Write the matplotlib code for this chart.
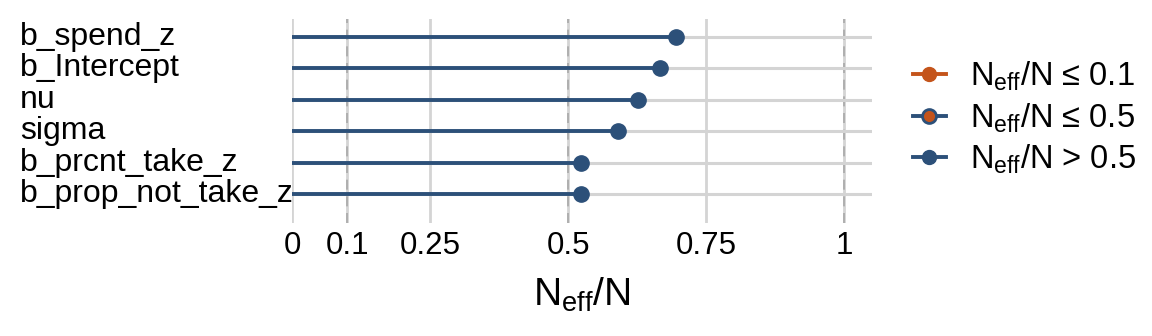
import matplotlib.pyplot as plt
import matplotlib.transforms as mtransforms
from matplotlib.lines import Line2D

plt.rcParams['font.family'] = ['Liberation Sans', 'DejaVu Sans']
plt.rcParams['mathtext.fontset'] = 'custom'
plt.rcParams['mathtext.rm'] = 'Liberation Sans'
plt.rcParams['mathtext.it'] = 'Liberation Sans'

params = ['b_spend_z', 'b_Intercept', 'nu', 'sigma', 'b_prcnt_take_z', 'b_prop_not_take_z']
ratios = [0.696, 0.667, 0.627, 0.591, 0.524, 0.524]
xticks = [0, 0.1, 0.25, 0.5, 0.75, 1]
xtick_labels = ['0', '0.1', '0.25', '0.5', '0.75', '1']
ref_lines = [0.1, 0.5, 1]

blue = '#2c5079'
orange = '#c4541b'
grid = '#d4d4d4'

fig = plt.figure(figsize=(11.52, 3.36), dpi=100)
ax = fig.add_axes([292 / 1152, 1 - 223 / 336, 580 / 1152, 204 / 336])

n = len(params)
ypos = [n - i for i in range(n)]

for xt in xticks:
    ax.axvline(xt, color=grid, lw=2, zorder=0)
for xr in ref_lines:
    ax.axvline(xr, color='#a8a8a8', lw=1.2, ls=(0, (6, 4)), zorder=1)
for y in ypos:
    ax.axhline(y, color=grid, lw=2.2, zorder=1)

for y, r in zip(ypos, ratios):
    ax.plot([0, r], [y, y], color=blue, lw=2.8, zorder=2, solid_capstyle='butt')
    ax.plot(r, y, 'o', color=blue, ms=11, zorder=3)

ax.set_xlim(0, 1.05)
ax.set_ylim(0.076, n + 0.573)
ax.set_xticks(xticks)
ax.set_xticklabels(xtick_labels, fontsize=22.5)
ax.set_yticks([])
ax.tick_params(axis='x', length=0, pad=6)
for s in ax.spines.values():
    s.set_visible(False)

trans = mtransforms.blended_transform_factory(fig.transFigure, ax.transData)
for y, p in zip(ypos, params):
    ax.text(20 / 1152, y, p, transform=trans, ha='left', va='center', fontsize=23)

ax.set_xlabel(r'$\mathrm{N_{eff}/N}$', fontsize=28, labelpad=10)

handles = [
    Line2D([0], [0], color=orange, lw=2.8, marker='o', ms=10, mfc=orange, mec=orange),
    Line2D([0], [0], color=blue, lw=2.8, marker='o', ms=10, mfc=orange, mec=blue, mew=2),
    Line2D([0], [0], color=blue, lw=2.8, marker='o', ms=10, mfc=blue, mec=blue),
]
labels = [r'$\mathrm{N_{eff}/N}$ ≤ 0.1', r'$\mathrm{N_{eff}/N}$ ≤ 0.5', r'$\mathrm{N_{eff}/N}$ > 0.5']
fig.legend(handles, labels, loc='center left', bbox_to_anchor=(913 / 1152, 1 - 118 / 336),
           frameon=False, fontsize=23.5, handlelength=1.0, handletextpad=0.75, labelspacing=0.25,
           borderpad=0, borderaxespad=0)

fig.savefig('out.png', dpi=100)
